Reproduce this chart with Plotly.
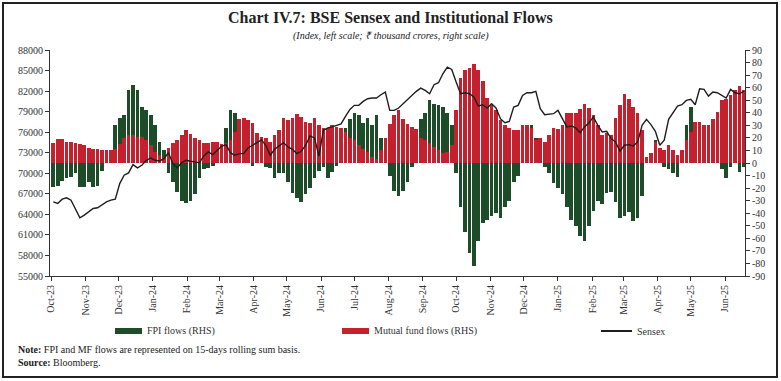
import plotly.graph_objects as go
import pandas as pd

# ---------------- data ----------------
dates = pd.date_range("2023-10-03", periods=157, freq="4D")

sensex = [
    65830, 65590, 66220, 66410, 66070, 64860, 63500, 63890, 64370, 64860, 64960, 65450, 65830, 66070, 66220,
    68500, 69720, 70060, 71270, 70790, 71170, 71900, 72240, 71900, 71800, 72140, 73010, 71410, 70790, 71560, 71900,
    71760, 71660, 71560, 72530, 73110, 72720, 73360, 73940, 74180, 73010, 72620, 72870, 72870, 73700, 74090, 74480,
    74870, 74090, 72630, 73500, 73990, 74480, 73840, 73500, 72870, 73210, 74090, 75450, 75160, 72500, 76280, 76620,
    76770, 77000, 77200, 78300, 79330, 79920, 79920, 80500, 80890, 80990, 80990, 81470, 81860, 79190, 79190, 79530,
    80160, 80790, 81370, 81960, 82440, 82100, 81610, 82930, 83220, 84530, 85500, 85160, 83320, 81610, 81760,
    81610, 81130, 79820, 80010, 79530, 80160, 79530, 77970, 77390, 77580, 79670, 79920, 81370, 81760, 81760, 81960,
    79430, 78550, 78650, 78700, 79190, 77880, 76770, 76910, 76620, 75940, 76770, 77390, 78220, 77000, 76030, 76130,
    75070, 74580, 73220, 74090, 74180, 73990, 74580, 77000, 77880, 77100, 76130, 74090, 74820, 77880, 78940, 79820,
    80010, 80640, 80790, 80010, 82340, 82250, 81270, 81860, 81760, 81370, 80990, 82250, 81760, 81610, 82000,
]

fpi = [
    -19, -18, -14, -12, -11, -8, -19, -19, -15, -19, -18, -6, 0, 0, 30, 36, 38, 58, 62, 58, 45, 42, 38, 30, 17, 10,
    -8, -15, -23, -30, -32,
    -30, -25, -12, -5, -4, -2, 2, 8, 28, 42, 40, 20, 5, 0, -2, 3, 0, -3, -4, -12, -8, -8, -15, -24, -28, -31, -25,
    -20, -12, -6, -3, -12,
    -7, -2, 5, 28, 35, 40, 38, 32, 36, 30, 38, 20, 5, -10, -22, -26, -22, -15, -3, 10, 35, 40, 50, 47, 46, 45, 40,
    30, -8, -35, -55,
    -72, -82, -62, -48, -45, -42, -40, -44, -35, -30, -15, -10, 0, 5, 30, 20, 3, -3, -8, -16, -20, -25, -35, -45,
    -50, -58, -62, -50, -38, -30, -33, -24,
    -23, -31, -44, -42, -39, -46, -44, -26, 3, 8, 18, 2, -3, -5, -8, -11, 8, 30, 45, 32, 33, 28, 15, 5, 2, -5, -12,
    -3, 0, -7, -3,
]

mf = [
    16, 19, 19, 17, 17, 16, 15, 14, 12, 11, 11, 10, 10, 10, 11, 15, 20, 22, 22, 21, 21, 18, 14, 9, 6, 5, 12, 16, 18,
    22, 26,
    23, 20, 18, 16, 16, 17, 17, 15, 16, 18, 25, 35, 36, 34, 32, 24, 21, 20, 17, 22, 26, 36, 34, 36, 39, 37, 33, 32,
    36, 30, 28, 28,
    30, 29, 28, 25, 20, 18, 14, 11, 9, 5, 3, 10, 20, 31, 38, 42, 35, 31, 29, 27, 20, 18, 16, 13, 10, 8, 9, 14, 42,
    68, 74,
    76, 79, 74, 65, 52, 46, 42, 34, 30, 28, 26, 26, 30, 30, 28, 18, 20, 17, 22, 28, 27, 30, 40, 40, 40, 43, 47, 44,
    38, 30, 22, 24,
    22, 36, 46, 55, 51, 45, 40, 26, 5, 8, 17, 12, 10, 14, 10, 6, 10, 18, 25, 33, 33, 30, 30, 35, 41, 50, 51, 54, 58,
    61, 58,
]

left_ticks = list(range(55000, 88001, 3000))
right_ticks = list(range(-90, 91, 10))
right_ticktext = [str(v) for v in right_ticks]

title_text = "Chart IV.7: BSE Sensex and Institutional Flows"
subtitle_text = "(Index, left scale; ₹ thousand crores, right scale)"
legend_names = ["FPI flows (RHS)", "Mutual fund flows (RHS)", "Sensex"]
note_text = "<b>Note:</b> FPI and MF flows are represented on 15-days rolling sum basis."
source_text = "<b>Source:</b> Bloomberg."

# ---------------- style ----------------
GREEN = "#1c4d28"
RED = "#c4202e"
LINE = "#1e1e1e"
TXT = "#333333"
FONT = "Liberation Serif"
W, H = 781, 381
ML, MR, MT, MB = 50, 36, 50, 105
PW, PH = W - ML - MR, H - MT - MB


def px(xp):
    return (xp - ML) / PW


def py(yp):
    return (H - MB - yp) / PH


bar_w = 3.3 * 86400000

fig = go.Figure()
fig.add_trace(go.Bar(x=dates, y=fpi, name=legend_names[0], marker=dict(color=GREEN, line=dict(width=0)),
                     width=bar_w, yaxis="y"))
fig.add_trace(go.Bar(x=dates, y=mf, name=legend_names[1], marker=dict(color=RED, line=dict(width=0)),
                     width=bar_w, yaxis="y"))
fig.add_trace(go.Scatter(x=dates, y=sensex, name=legend_names[2], mode="lines",
                         line=dict(color=LINE, width=1.4), yaxis="y2"))

axis_font = dict(family=FONT, size=10, color=TXT)

fig.update_layout(
    width=W, height=H,
    margin=dict(l=ML, r=MR, t=MT, b=MB, pad=0),
    paper_bgcolor="white", plot_bgcolor="white",
    barmode="overlay", bargap=0,
    showlegend=False,
    font=dict(family=FONT, color=TXT),
    xaxis=dict(type="date", range=["2023-09-30", "2025-06-19"], dtick="M1", tick0="2023-10-01",
               tickformat="%b-%y", tickangle=-90, ticks="outside", ticklen=4, tickcolor="#333",
               showline=True, linecolor="#333", linewidth=1, showgrid=False, zeroline=False,
               tickfont=axis_font),
    yaxis=dict(side="right", range=[-90, 90], tickvals=right_ticks, ticktext=right_ticktext,
               ticks="outside", ticklen=4, tickcolor="#333", showline=True, linecolor="#333", linewidth=1,
               showgrid=False, zeroline=False, tickfont=axis_font),
    yaxis2=dict(side="left", overlaying="y", range=[55000, 88000], tickvals=left_ticks, tickformat="d",
                ticks="outside", ticklen=4, tickcolor="#333", showline=True, linecolor="#333", linewidth=1,
                showgrid=False, zeroline=False, tickfont=axis_font),
)

annotations = [
    dict(text="<b>" + title_text + "</b>", x=px(390.5), y=py(17), xref="paper", yref="paper",
         xanchor="center", yanchor="middle", showarrow=False, font=dict(family=FONT, size=16, color="#222")),
    dict(text="<i>" + subtitle_text + "</i>", x=px(390.5), y=py(36), xref="paper", yref="paper",
         xanchor="center", yanchor="middle", showarrow=False, font=dict(family=FONT, size=10, color="#222")),
    dict(text=legend_names[0], x=px(145), y=py(331), xref="paper", yref="paper", xanchor="left",
         yanchor="middle", showarrow=False, font=dict(family=FONT, size=10, color=TXT)),
    dict(text=legend_names[1], x=px(372), y=py(331), xref="paper", yref="paper", xanchor="left",
         yanchor="middle", showarrow=False, font=dict(family=FONT, size=10, color=TXT)),
    dict(text=legend_names[2], x=px(635), y=py(331), xref="paper", yref="paper", xanchor="left",
         yanchor="middle", showarrow=False, font=dict(family=FONT, size=10, color=TXT)),
    dict(text=note_text, x=px(16), y=py(349), xref="paper", yref="paper", xanchor="left",
         yanchor="middle", showarrow=False, font=dict(family=FONT, size=10, color="#222")),
    dict(text=source_text, x=px(16), y=py(362), xref="paper", yref="paper", xanchor="left",
         yanchor="middle", showarrow=False, font=dict(family=FONT, size=10, color="#222")),
]

shapes = [
    dict(type="rect", xref="paper", yref="paper", x0=px(115), x1=px(142), y0=py(334), y1=py(328),
         fillcolor=GREEN, line=dict(width=0)),
    dict(type="rect", xref="paper", yref="paper", x0=px(342), x1=px(369), y0=py(334), y1=py(328),
         fillcolor=RED, line=dict(width=0)),
    dict(type="line", xref="paper", yref="paper", x0=px(601), x1=px(632), y0=py(331), y1=py(331),
         line=dict(color=LINE, width=2)),
    dict(type="rect", xref="paper", yref="paper", x0=px(3), x1=px(777), y0=py(377), y1=py(3),
         line=dict(color="#222", width=2), fillcolor="rgba(0,0,0,0)"),
]

fig.update_layout(annotations=annotations, shapes=shapes)

fig.write_html("out.html", config={"displayModeBar": False},
               post_script="document.body.style.margin='0';document.body.style.overflow='hidden';")
